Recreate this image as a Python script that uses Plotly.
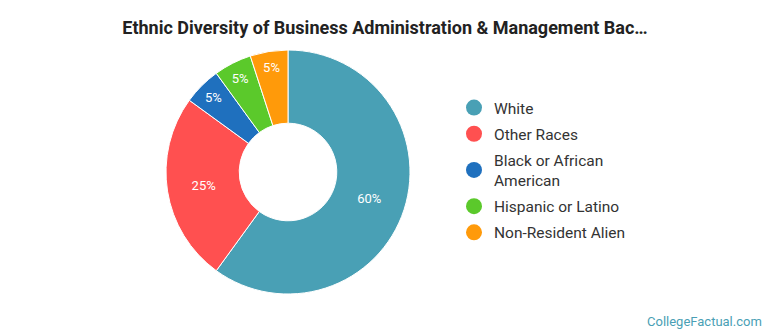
import plotly.graph_objects as go

labels = ["White", "Other Races", "Black or African American", "Hispanic or Latino", "Non-Resident Alien"]
legend_labels = ["White", "Other Races", "Black or African<br>American", "Hispanic or Latino", "Non-Resident Alien"]
values = [60, 25, 5, 5, 5]
colors = ["#49A0B5", "#FF5050", "#1F70BE", "#5BC92B", "#FF9A0A"]

W, H = 770, 335
cx, cy, r = 288, 172, 122

fig = go.Figure()
fig.add_trace(go.Pie(
    labels=labels, values=values, sort=False, direction="clockwise", rotation=0,
    hole=0.40,
    marker=dict(colors=colors, line=dict(color="white", width=1)),
    texttemplate="%{percent:.0%}", textposition="inside",
    insidetextorientation="horizontal",
    textfont=dict(color="white", size=13, family="Roboto"),
    showlegend=False, hoverinfo="label+percent",
    domain=dict(x=[(cx - r) / W, (cx + r) / W], y=[1 - (cy + r) / H, 1 - (cy - r) / H]),
))

for i, (lab, col) in enumerate(zip(legend_labels, colors)):
    fig.add_trace(go.Scatter(
        x=[None], y=[None], mode="markers", name=lab, legendgroup=f"g{i}",
        marker=dict(symbol="circle", size=17, color=col),
        showlegend=True,
    ))

fig.update_layout(
    width=W, height=H,
    margin=dict(l=0, r=0, t=0, b=0),
    paper_bgcolor="white", plot_bgcolor="white",
    xaxis=dict(visible=False), yaxis=dict(visible=False),
    title=dict(
        text="<b>Ethnic Diversity of Business Administration & Management Bac…</b>",
        x=0.5, xanchor="center", y=1 - 28 / H, yanchor="middle",
        font=dict(family="Roboto", size=18, color="#222222"),
    ),
    legend=dict(
        x=454 / W, xanchor="left", y=1 - 91 / H, yanchor="top",
        font=dict(family="Roboto", size=15.5, color="#333333"),
        bgcolor="rgba(0,0,0,0)", itemsizing="trace", tracegroupgap=3,
    ),
    annotations=[dict(
        text="CollegeFactual.com", xref="paper", yref="paper",
        x=764 / W, xanchor="right", y=1 - 321 / H, yanchor="middle",
        showarrow=False, font=dict(family="Roboto", size=13, color="#4A9FB5"),
    )],
)

fig.write_html("out.html")
